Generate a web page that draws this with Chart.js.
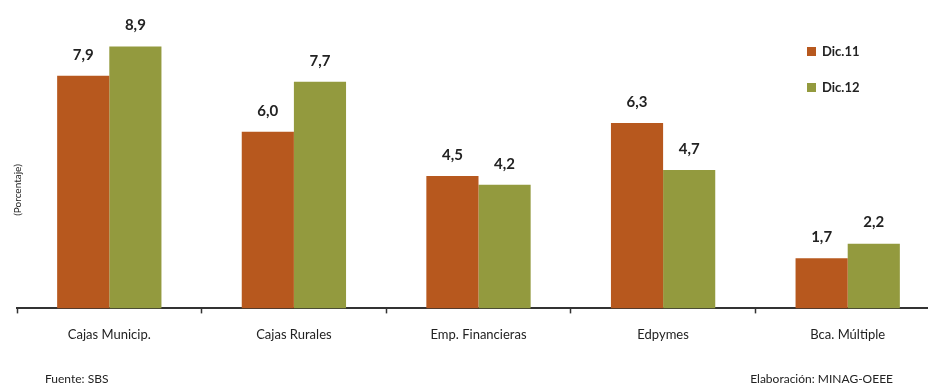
<!DOCTYPE html>
<html>
<head>
<meta charset="utf-8">
<script src="https://cdn.jsdelivr.net/npm/chart.js@4/dist/chart.umd.min.js"></script>
<style>
  html, body { margin: 0; padding: 0; background: #fff; overflow: hidden; }
  #wrap { width: 928px; height: 385px; overflow: hidden; }
  #box { width: 945px; height: 385px; }
</style>
</head>
<body>
<div id="wrap"><div id="box"><canvas id="morosidadChart"></canvas></div></div>
<script>
const categories = ['Cajas Municip.', 'Cajas Rurales', 'Emp. Financieras', 'Edpymes', 'Bca. Múltiple'];
const dic11 = [7.9, 6.0, 4.5, 6.3, 1.7];
const dic12 = [8.9, 7.7, 4.2, 4.7, 2.2];
const series_names = ['Dic.11', 'Dic.12'];
const bar_colors = ['#b7581e', '#939a3e'];
const text_color = '#222';
const font_family = 'Lato, "Open Sans", sans-serif';

// value labels on top of each bar, decimal comma
const valueLabels = {
  id: 'valueLabels',
  afterDatasetsDraw(chart) {
    let ctx = chart.ctx;
    ctx.save();
    ctx.font = 'bold 15px ' + font_family;
    ctx.fillStyle = text_color;
    ctx.textAlign = 'center';
    ctx.textBaseline = 'middle';
    chart.data.datasets.forEach((ds, i) => {
      chart.getDatasetMeta(i).data.forEach((bar, j) => {
        ctx.fillText(ds.data[j].toFixed(1).replace('.', ','), bar.x, bar.y - 21);
      });
    });
    ctx.restore();
  }
};

// legend, axis title and source notes
const extras = {
  id: 'extras',
  afterDraw(chart) {
    let ctx = chart.ctx;
    ctx.save();
    ctx.textBaseline = 'middle';
    ctx.font = 'bold 13px ' + font_family;
    chart.data.datasets.forEach((ds, i) => {
      let y = 52 + i * 36;
      ctx.fillStyle = ds.backgroundColor;
      ctx.fillRect(807, y - 5, 9, 9);
      ctx.fillStyle = text_color;
      ctx.textAlign = 'left';
      ctx.fillText(ds.label, 822, y);
    });

    ctx.font = '10px ' + font_family;
    ctx.translate(18, 190);
    ctx.rotate(-Math.PI / 2);
    ctx.textAlign = 'center';
    ctx.fillText('(Porcentaje)', 0, 0);
    ctx.setTransform(1, 0, 0, 1, 0, 0);

    ctx.font = '12px ' + font_family;
    ctx.textAlign = 'left';
    ctx.fillText('Fuente: SBS', 45, 379);
    ctx.textAlign = 'right';
    ctx.fillText('Elaboración: MINAG-OEEE', 893, 379);
    ctx.restore();
  }
};

let config = {
  type: 'bar',
  data: {
    labels: categories,
    datasets: [
      { label: series_names[0], data: dic11, backgroundColor: bar_colors[0] },
      { label: series_names[1], data: dic12, backgroundColor: bar_colors[1] }
    ]
  },
  options: {
    responsive: true,
    maintainAspectRatio: false,
    animation: false,
    events: [],
    layout: { padding: { left: 17, right: 5, top: 14, bottom: 28 } },
    datasets: {
      bar: { barPercentage: 1.0, categoryPercentage: 0.565 }
    },
    plugins: {
      legend: { display: false },
      tooltip: { enabled: false }
    },
    scales: {
      x: {
        offset: true,
        grid: {
          display: true,
          offset: true,
          drawOnChartArea: false,
          tickLength: 5,
          tickColor: '#333',
          tickWidth: 1.5
        },
        border: { display: true, color: '#333', width: 2 },
        ticks: {
          color: text_color,
          padding: 14,
          font: { family: font_family, size: 13 }
        }
      },
      y: {
        display: false,
        min: 0,
        max: 10
      }
    }
  },
  plugins: [valueLabels, extras]
};

new Chart(document.getElementById('morosidadChart').getContext('2d'), config);
</script>
</body>
</html>
